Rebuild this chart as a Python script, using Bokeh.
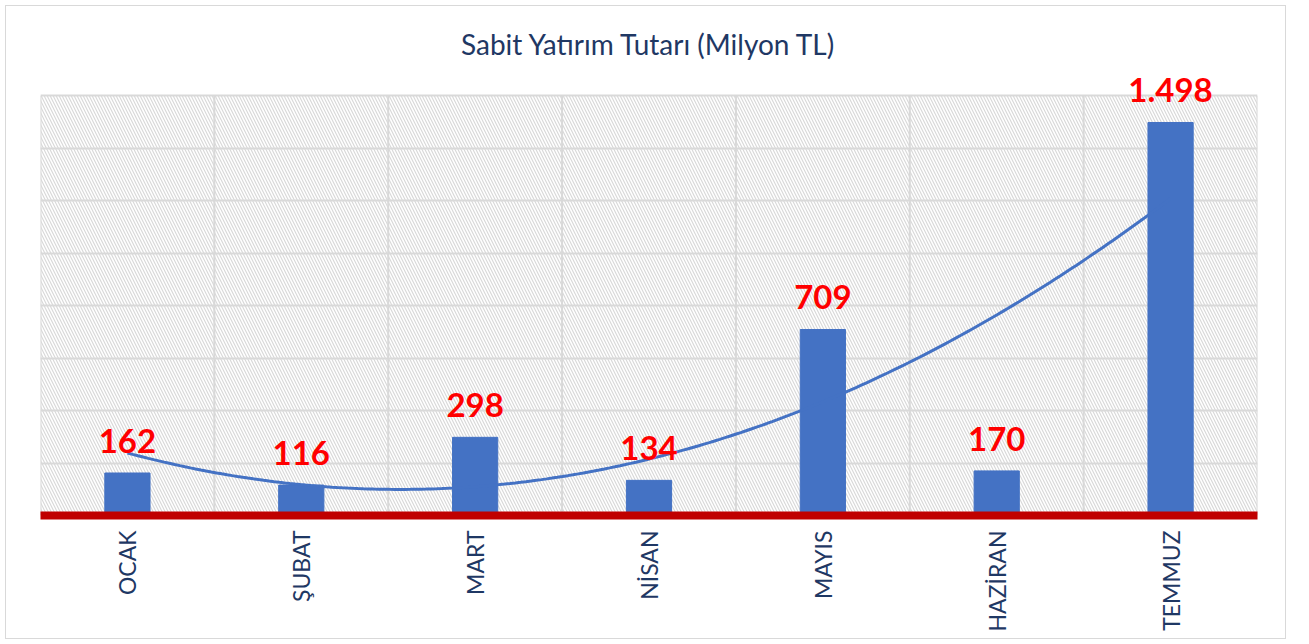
import numpy as np
from bokeh.plotting import figure
from bokeh.models import (ColumnDataSource, BoxAnnotation, FixedTicker,
                          SingleIntervalTicker, Range1d, LabelSet)
from bokeh.core.properties import value
from bokeh.embed import file_html
from bokeh.resources import INLINE

# ---- data ----
months = ["OCAK", "ŞUBAT", "MART", "NİSAN", "MAYIS", "HAZİRAN", "TEMMUZ"]
amounts = [162, 116, 298, 134, 709, 170, 1498]
y_max = 1600          # top of the chart's value axis
grid_step = 200
title_text = "Sabit Yatırım Tutarı (Milyon TL)"

x = list(range(1, len(months) + 1))
labels = [f"{v:,}".replace(",", ".") for v in amounts]
src = ColumnDataSource(dict(x=x, amount=amounts, label=labels, month=months))

# category boundaries (vertical grid lines of the category axis)
bounds_x = [i + 0.5 for i in range(len(months) + 1)]

# polynomial (order 2) trendline, as in the spreadsheet chart
coef = np.polyfit(x, amounts, 2)
tx = np.linspace(x[0], x[-1], 200)
ty = np.polyval(coef, tx)

NAVY = "#1F3864"
BLUE = "#4472C4"
GRID = "#D9D9D9"

# the frame reaches a little above y_max so the top data label is not clipped
p = figure(width=1281, height=634, output_backend="svg", toolbar_location=None,
           x_range=Range1d(0.5, len(months) + 0.5),
           y_range=Range1d(0, y_max + 100),
           min_border_left=34, min_border_right=30, min_border_top=63,
           min_border_bottom=125)
p.styles = {"border": "1px solid #D9D9D9", "margin-left": "5px", "margin-top": "5px"}

p.title.text = title_text
p.title.align = "center"
p.title.text_font = "Lato"
p.title.text_font_size = "28px"
p.title.text_font_style = "normal"
p.title.text_color = NAVY
p.title.standoff = 17

# hatched background of the plot area (0 .. y_max)
p.add_layout(BoxAnnotation(top=y_max, fill_alpha=0, line_color=None,
                           hatch_pattern="left_diagonal_line",
                           hatch_color=GRID, hatch_scale=6, hatch_weight=1.2,
                           level="underlay"))

p.outline_line_color = None
p.background_fill_color = "white"

p.yaxis.visible = False
p.ygrid.ticker = SingleIntervalTicker(interval=grid_step)
p.ygrid.grid_line_color = GRID
p.ygrid.grid_line_width = 2
p.xgrid.visible = False

p.segment(x0=bounds_x, y0=[0] * len(bounds_x), x1=bounds_x,
          y1=[y_max] * len(bounds_x), line_color=GRID, line_width=2)

p.vbar(x="x", top="amount", width=0.26, source=src, color=BLUE)
p.line(tx, ty, line_color=BLUE, line_width=3)

p.add_layout(LabelSet(x="x", y="amount", text="label", source=src,
                      text_font=value("Lato"), text_font_style="bold",
                      text_font_size="33px", text_color="#FF0000",
                      text_align="center", text_baseline="alphabetic",
                      y_offset=20))

ax = p.xaxis[0]
ax.ticker = FixedTicker(ticks=x)
ax.major_label_overrides = {i: m for i, m in zip(x, months)}
ax.major_label_orientation = np.pi / 2
ax.major_tick_line_color = None
ax.minor_tick_line_color = None
ax.axis_line_color = "#C00000"
ax.axis_line_width = 8
ax.major_label_text_font = "Lato"
ax.major_label_text_font_size = "23px"
ax.major_label_text_color = NAVY
ax.major_label_standoff = 9

open("out.html", "w").write(file_html(p, INLINE))
